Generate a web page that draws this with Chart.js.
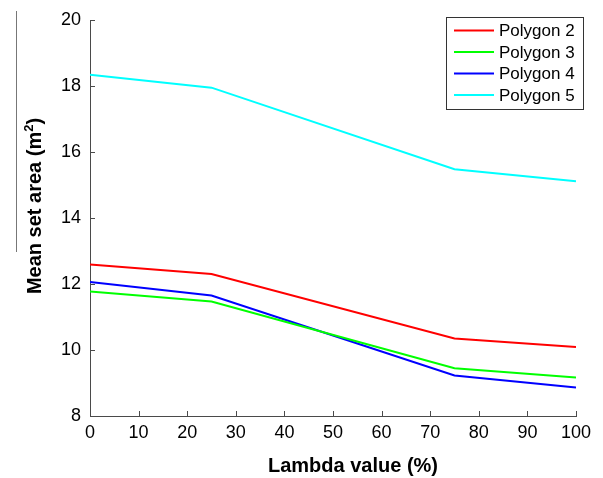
<!DOCTYPE html>
<html>
<head>
<meta charset="utf-8">
<script src="https://cdn.jsdelivr.net/npm/chart.js@4/dist/chart.umd.min.js"></script>
<style>
  html, body { margin: 0; padding: 0; background: #fff; }
  #wrap { width: 603px; height: 478px; position: relative; }
</style>
</head>
<body>
<div id="wrap"><canvas id="c" width="603" height="478"></canvas></div>
<script>
// ---- data ----
const lambdaValues = [0, 25, 75, 100];
const seriesNames = ['Polygon 2', 'Polygon 3', 'Polygon 4', 'Polygon 5'];
const polygon2 = [12.59, 12.30, 10.35, 10.09];
const polygon3 = [11.77, 11.47, 9.45, 9.17];
const polygon4 = [12.06, 11.65, 9.23, 8.86];
const polygon5 = [18.34, 17.95, 15.48, 15.11];
const xTicks = [0, 10, 20, 30, 40, 50, 60, 70, 80, 90, 100];
const yTicks = [8, 10, 12, 14, 16, 18, 20];
const xTitle = 'Lambda value (%)';
const yTitleMain = 'Mean set area (m';
const yTitleSup = '2';
const yTitleEnd = ')';

const colors = ['#ff0000', '#00ff00', '#0000ff', '#00ffff'];
const allSeries = [polygon2, polygon3, polygon4, polygon5];

const FONT = "'Liberation Sans', Arial, sans-serif";
const AXIS_COLOR = '#4a4a4a';

const datasets = allSeries.map((vals, i) => ({
  label: seriesNames[i],
  data: lambdaValues.map((x, j) => ({ x: x, y: vals[j] })),
  borderColor: colors[i],
  backgroundColor: colors[i],
  borderWidth: 2,
  pointRadius: 0,
  tension: 0,
  fill: false
}));

const decorPlugin = {
  id: 'decor',
  afterDraw(chart) {
    const ctx = chart.ctx;
    const xs = chart.scales.x, ys = chart.scales.y;
    const area = chart.chartArea;
    ctx.save();
    // inward ticks
    ctx.strokeStyle = AXIS_COLOR;
    ctx.lineWidth = 1;
    ctx.beginPath();
    xTicks.forEach(v => {
      const px = Math.round(xs.getPixelForValue(v)) + 0.5;
      ctx.moveTo(px, area.bottom);
      ctx.lineTo(px, area.bottom - 5);
    });
    yTicks.forEach(v => {
      const py = Math.round(ys.getPixelForValue(v)) + 0.5;
      ctx.moveTo(area.left, py);
      ctx.lineTo(area.left + 5, py);
    });
    ctx.stroke();

    // stray vertical line at far left (as in reference)
    ctx.strokeStyle = '#777';
    ctx.beginPath();
    ctx.moveTo(16.5, 11);
    ctx.lineTo(16.5, 252);
    ctx.stroke();

    // axis titles
    ctx.fillStyle = '#000';
    ctx.font = 'bold 20px ' + FONT;
    ctx.textAlign = 'center';
    ctx.textBaseline = 'alphabetic';
    ctx.fillText(xTitle, 353, 472);

    ctx.save();
    ctx.translate(41, 206);
    ctx.rotate(-Math.PI / 2);
    ctx.textAlign = 'left';
    ctx.font = 'bold 20px ' + FONT;
    const wMain = ctx.measureText(yTitleMain).width;
    const wEnd = ctx.measureText(yTitleEnd).width;
    ctx.font = 'bold 13px ' + FONT;
    const wSup = ctx.measureText(yTitleSup).width;
    const total = wMain + wSup + wEnd;
    let x0 = -total / 2;
    ctx.font = 'bold 20px ' + FONT;
    ctx.fillText(yTitleMain, x0, 0);
    ctx.font = 'bold 13px ' + FONT;
    ctx.fillText(yTitleSup, x0 + wMain, -8);
    ctx.font = 'bold 20px ' + FONT;
    ctx.fillText(yTitleEnd, x0 + wMain + wSup, 0);
    ctx.restore();

    // legend box inside plot, top-right
    const bx = 446.5, by = 17.5, bw = 137, bh = 92;
    ctx.fillStyle = '#fff';
    ctx.fillRect(bx, by, bw, bh);
    ctx.strokeStyle = '#333';
    ctx.lineWidth = 1;
    ctx.strokeRect(bx, by, bw, bh);
    ctx.font = '17px ' + FONT;
    ctx.textBaseline = 'middle';
    ctx.textAlign = 'left';
    chart.data.datasets.forEach((ds, i) => {
      const y = 30.5 + i * 21.5;
      ctx.strokeStyle = ds.borderColor;
      ctx.lineWidth = 2;
      ctx.beginPath();
      ctx.moveTo(454, y);
      ctx.lineTo(494, y);
      ctx.stroke();
      ctx.fillStyle = '#000';
      ctx.fillText(ds.label, 499, y + 1);
    });
    ctx.restore();
  }
};

new Chart(document.getElementById('c'), {
  type: 'line',
  data: { datasets: datasets },
  options: {
    responsive: false,
    animation: false,
    devicePixelRatio: 1,
    layout: { padding: { left: 0, right: 27, top: 20, bottom: 0 } },
    plugins: { legend: { display: false }, tooltip: { enabled: false } },
    scales: {
      x: {
        type: 'linear',
        min: 0, max: 100,
        afterFit: s => { s.height = 62; },
        afterBuildTicks: s => { s.ticks = xTicks.map(v => ({ value: v })); },
        grid: { display: true, drawOnChartArea: false, drawTicks: false },
        border: { display: true, color: AXIS_COLOR, width: 1 },
        ticks: { color: '#000', font: { family: FONT, size: 18 }, padding: 6, maxRotation: 0, autoSkip: false },
        title: { display: false }
      },
      y: {
        type: 'linear',
        min: 8, max: 20,
        afterFit: s => { s.width = 90; },
        afterBuildTicks: s => { s.ticks = yTicks.map(v => ({ value: v })); },
        grid: { display: true, drawOnChartArea: false, drawTicks: false },
        border: { display: true, color: AXIS_COLOR, width: 1 },
        ticks: { color: '#000', font: { family: FONT, size: 18 }, padding: 9, autoSkip: false },
        title: { display: false }
      }
    }
  },
  plugins: [decorPlugin]
});
</script>
</body>
</html>
